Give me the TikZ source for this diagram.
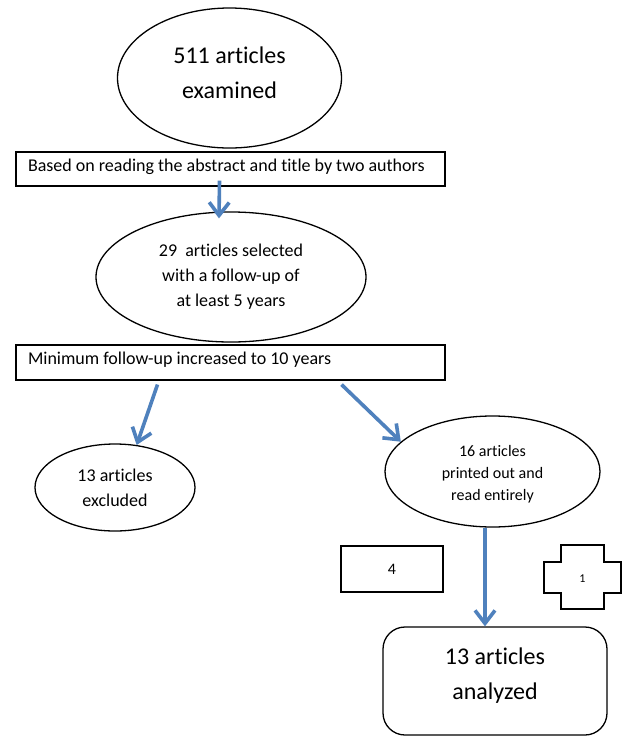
\documentclass[tikz,border=0pt]{standalone}
\usepackage{fontspec}
\setmainfont{Carlito}[Ligatures=NoCommon]
\usetikzlibrary{shapes.geometric,arrows.meta}
\definecolor{arrblue}{RGB}{79,129,189}
\begin{document}
\begin{tikzpicture}[x=1pt,y=-1pt,
  oval/.style={draw=black,line width=1.3pt,ellipse,inner sep=0pt,align=center},
  bar/.style={draw=black,line width=1.1pt,rectangle,minimum width=429pt,inner xsep=12pt,text width=405pt,align=flush left,text height=13pt,text depth=8.5pt,font=\fontsize{18}{22}\selectfont},
  arr/.style={draw=arrblue,line width=3.6pt,-{Straight Barb[length=13pt,width=20pt]}},
  plainbox/.style={draw=black,line width=1.3pt,rectangle}
]
\useasboundingbox (0,0) rectangle (622,737);
\fill[white] (0,0) rectangle (622,737);

\node[oval,minimum width=224pt,minimum height=140pt,
  label={[yshift=5pt,align=center,font=\fontsize{24}{35}\selectfont]center:511 articles\\examined}] (e1) at (229.5,78) {};

\node[bar,minimum height=34pt] (b1) at (230.5,169) {Based on reading the abstract and title by two authors};

\node[oval,minimum width=270pt,minimum height=130pt,font=\fontsize{18}{25}\selectfont] (e2) at (231,277) {29\ \ articles selected\\with a follow-up of\\at least 5 years};

\node[bar,minimum height=35pt] (b2) at (230.5,362.5) {Minimum follow-up increased to 10 years};

\node[oval,minimum width=160pt,minimum height=87pt,font=\fontsize{18}{25}\selectfont] (e3) at (115,487.5) {13 articles\\excluded};

\node[oval,minimum width=215pt,minimum height=111pt,
  label={[yshift=-3pt,align=center,font=\fontsize{16}{22}\selectfont]center:16 articles\\printed out and\\read entirely}] (e4) at (492.5,471.5) {};

\node[plainbox,minimum width=102pt,minimum height=46pt,font=\fontsize{16}{20}\selectfont] (b4) at (392,569) {4};

\draw[line width=1.3pt] (561,545) -- (604,545) -- (604,562) -- (621,562) -- (621,593) -- (604,593) -- (604,609) -- (561,609) -- (561,593) -- (544,593) -- (544,562) -- (561,562) -- cycle;
\node[font=\fontsize{12}{14}\selectfont] (c1) at (582.5,579) {1};

\node[draw=black,line width=1.3pt,rectangle,rounded corners=22pt,minimum width=224pt,minimum height=108pt,
  label={[yshift=5pt,align=center,font=\fontsize{24}{35}\selectfont]center:13 articles\\analyzed}] (r) at (495,681) {};

\draw[arr] ([xshift=-11pt,yshift=6pt]b1.south) -- ([xshift=-12pt,yshift=-7pt]e2.north);
\draw[arr] ([xshift=-73pt,yshift=-4pt]b2.south) -- (e3.63);
\draw[arr] ([xshift=111pt,yshift=-4pt]b2.south) -- (e4.162);
\draw[arr] ([xshift=-7.5pt]e4.south) -- ([xshift=-10pt]r.north);
\end{tikzpicture}
\end{document}
